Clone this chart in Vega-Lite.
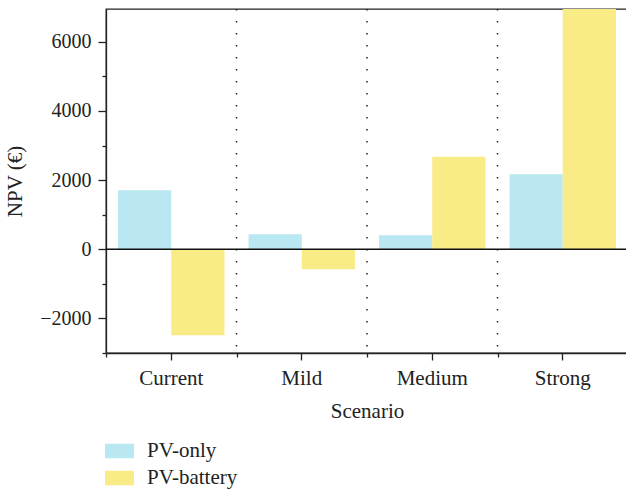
{
  "$schema": "https://vega.github.io/schema/vega-lite/v6.json",
  "width": 522,
  "height": 344,
  "autosize": {"type": "none"},
  "padding": {"left": 106, "top": 9, "right": 0, "bottom": 140},
  "config": {
    "font": "Liberation Serif",
    "view": {"stroke": "#222", "strokeWidth": 1.3},
    "axis": {
      "labelFont": "Liberation Serif",
      "titleFont": "Liberation Serif",
      "labelFontSize": 20,
      "titleFontSize": 21,
      "labelColor": "#222",
      "titleColor": "#222",
      "titleFontWeight": "normal",
      "domainColor": "#222",
      "tickColor": "#222",
      "domainWidth": 1.3,
      "tickWidth": 1.3,
      "grid": false
    }
  },
  "datasets": {
    "npv": [
      {"scenario": "Current", "system": "PV-only", "npv": 1710},
      {"scenario": "Current", "system": "PV-battery", "npv": -2490},
      {"scenario": "Mild", "system": "PV-only", "npv": 435},
      {"scenario": "Mild", "system": "PV-battery", "npv": -580},
      {"scenario": "Medium", "system": "PV-only", "npv": 405},
      {"scenario": "Medium", "system": "PV-battery", "npv": 2675},
      {"scenario": "Strong", "system": "PV-only", "npv": 2170},
      {"scenario": "Strong", "system": "PV-battery", "npv": 7000}
    ],
    "seps": [
      {"scenario": "Mild"},
      {"scenario": "Medium"},
      {"scenario": "Strong"}
    ]
  },
  "layer": [
    {
      "data": {"name": "seps"},
      "mark": {"type": "rule", "strokeDash": [1.5, 10.5], "strokeWidth": 1.5, "color": "#222"},
      "encoding": {
        "x": {
          "field": "scenario",
          "type": "nominal",
          "sort": ["Current", "Mild", "Medium", "Strong"],
          "bandPosition": 0,
          "axis": {"orient": "bottom", "tickBand": "extent", "labels": false, "domain": false, "tickSize": 4, "title": null}
        }
      }
    },
    {
      "data": {"name": "npv"},
      "mark": {"type": "bar", "clip": true},
      "encoding": {
        "x": {
          "field": "scenario",
          "type": "nominal",
          "sort": ["Current", "Mild", "Medium", "Strong"],
          "scale": {"domain": ["Current", "Mild", "Medium", "Strong"], "paddingInner": 0, "paddingOuter": 0},
          "axis": {"orient": "bottom", "title": "Scenario", "labelAngle": 0, "labelFontSize": 21, "tickSize": 7, "labelPadding": 7, "titlePadding": 12}
        },
        "xOffset": {
          "field": "system",
          "sort": ["PV-only", "PV-battery"],
          "scale": {"paddingInner": 0, "paddingOuter": 0.226}
        },
        "y": {
          "field": "npv",
          "type": "quantitative",
          "scale": {"domain": [-3000, 6950], "nice": false, "zero": false},
          "axis": {"title": "NPV (€)", "orient": "left", "format": "d", "values": [-2000, 0, 2000, 4000, 6000], "tickSize": 8, "labelPadding": 7, "titlePadding": 14}
        },
        "color": {
          "field": "system",
          "type": "nominal",
          "scale": {"domain": ["PV-only", "PV-battery"], "range": ["#B9E7F2", "#F9EB85"]},
          "legend": {
            "orient": "none",
            "legendX": -1,
            "legendY": 427.5,
            "title": null,
            "direction": "vertical",
            "symbolType": "M-1,-0.5H1V0.5H-1Z",
            "symbolSize": 841,
            "symbolStrokeWidth": 0,
            "symbolOpacity": 1,
            "labelFont": "Liberation Serif",
            "labelFontSize": 21,
            "labelColor": "#222",
            "labelOffset": 13,
            "rowPadding": 2
          }
        }
      }
    },
    {
      "data": {"values": [{}]},
      "mark": {"type": "rule", "color": "#111", "strokeWidth": 1.5},
      "encoding": {
        "y": {
          "datum": 0,
          "axis": {"orient": "left", "values": [-3000, -1000, 1000, 3000, 5000], "labels": false, "domain": false, "tickSize": 4, "title": null}
        }
      }
    }
  ],
  "resolve": {"axis": {"x": "independent", "y": "independent"}}
}
